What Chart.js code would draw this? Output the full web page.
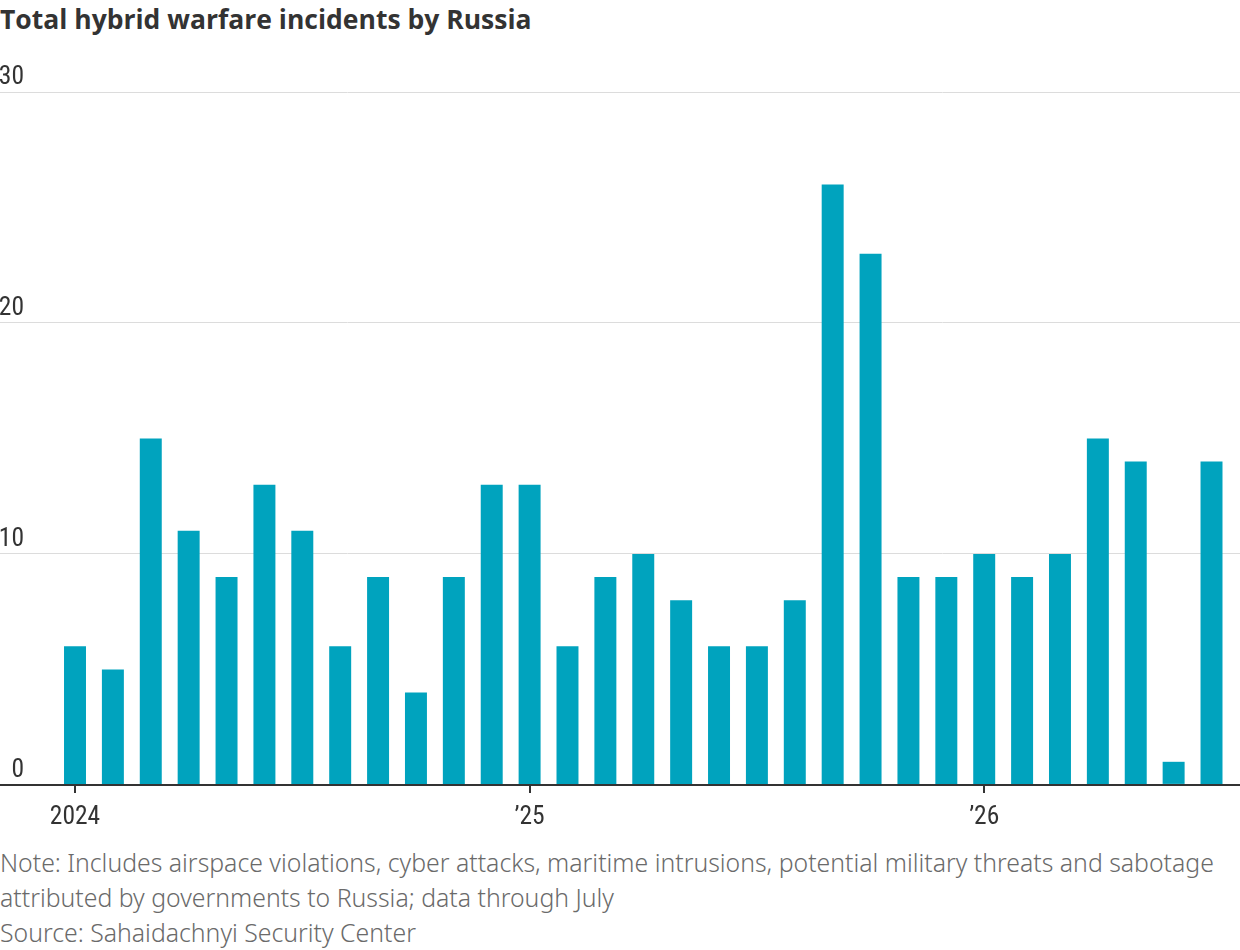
<!DOCTYPE html>
<html><head><meta charset="utf-8">
<script src="https://cdn.jsdelivr.net/npm/chart.js@4/dist/chart.umd.min.js"></script>
<style>
html,body{margin:0;padding:0;background:#fff;}
body{width:1240px;height:950px;position:relative;overflow:hidden;}
#title{position:absolute;left:0;top:4px;font-family:"Open Sans",sans-serif;font-weight:700;font-size:26.5px;line-height:30px;color:#333;white-space:nowrap;}
#wrap{position:absolute;left:0;top:60px;width:1240px;height:783px;}
#notes{position:absolute;left:0;top:845px;font-family:"Noto Sans",sans-serif;font-weight:300;font-size:24.8px;line-height:35px;color:#6a6a6a;white-space:nowrap;}
</style>
</head><body>
<div id="title">Total hybrid warfare incidents by Russia</div>
<div id="wrap"><canvas id="c"></canvas></div>
<div id="notes">Note: Includes airspace violations, cyber attacks, maritime intrusions, potential military threats and sabotage<br>attributed by governments to Russia; data through July<br>Source: Sahaidachnyi Security Center</div>
<script>
const months = ['Jan 2024','Feb 2024','Mar 2024','Apr 2024','May 2024','Jun 2024','Jul 2024','Aug 2024','Sep 2024','Oct 2024','Nov 2024','Dec 2024',
  'Jan 2025','Feb 2025','Mar 2025','Apr 2025','May 2025','Jun 2025','Jul 2025','Aug 2025','Sep 2025','Oct 2025','Nov 2025','Dec 2025',
  'Jan 2026','Feb 2026','Mar 2026','Apr 2026','May 2026','Jun 2026','Jul 2026'];
const incidents = [6,5,15,11,9,13,11,6,9,4,9,13, 13,6,9,10,8,6,6,8,26,23,9,9, 10,9,10,15,14,1,14];
const xTickIndex = [0,12,24];
const xTickLabels = ['2024','\u201925','\u201926'];
const yTicks = [0,10,20,30];

const tickFont = {family:'"Roboto Condensed", "Roboto", sans-serif', size:25.5};

new Chart(document.getElementById('c'), {
  type:'bar',
  data:{
    datasets:[{
      label:'Incidents',
      data: incidents.map((v,i)=>({x:i, y:v, m:months[i]})),
      backgroundColor:'#00a3be',
      borderWidth:0,
      barPercentage:0.58,
      categoryPercentage:1.0
    }]
  },
  options:{
    responsive:true,
    maintainAspectRatio:false,
    animation:false,
    devicePixelRatio:1,
    layout:{padding:{top:32,bottom:0.5,left:0,right:0}},
    plugins:{legend:{display:false},tooltip:{enabled:false},title:{display:false}},
    scales:{
      x:{
        type:'linear',
        offset:false,
        min:-0.66,
        max:30.752,
        z:1,
        afterBuildTicks:(s)=>{ s.ticks = xTickIndex.map(v=>({value:v})); },
        ticks:{
          autoSkip:false, maxRotation:0, minRotation:0,
          padding:9.5, color:'#333', font:tickFont,
          callback:(v)=>{ const k = xTickIndex.indexOf(v); return k>=0 ? xTickLabels[k] : ''; }
        },
        grid:{display:true, offset:false, drawOnChartArea:false, drawTicks:true, tickLength:8, color:'#333', lineWidth:2},
        border:{display:true, color:'#333', width:2}
      },
      y:{
        type:'linear',
        position:'left',
        min:0, max:30,
        afterBuildTicks:(s)=>{ s.ticks = yTicks.map(v=>({value:v})); },
        afterFit:(s)=>{ s.width = 50; },
        ticks:{padding:-24, labelOffset:-14, color:'#333', font:tickFont, crossAlign:'near'},
        grid:{
          drawTicks:true, tickLength:50,
          color:(ctx)=> (ctx.tick && ctx.tick.value===0) ? '#333' : '#dcdcdc',
          lineWidth:(ctx)=> (ctx.tick && ctx.tick.value===0) ? 2 : 1
        },
        border:{display:false}
      }
    }
  }
});
</script>
</body></html>
